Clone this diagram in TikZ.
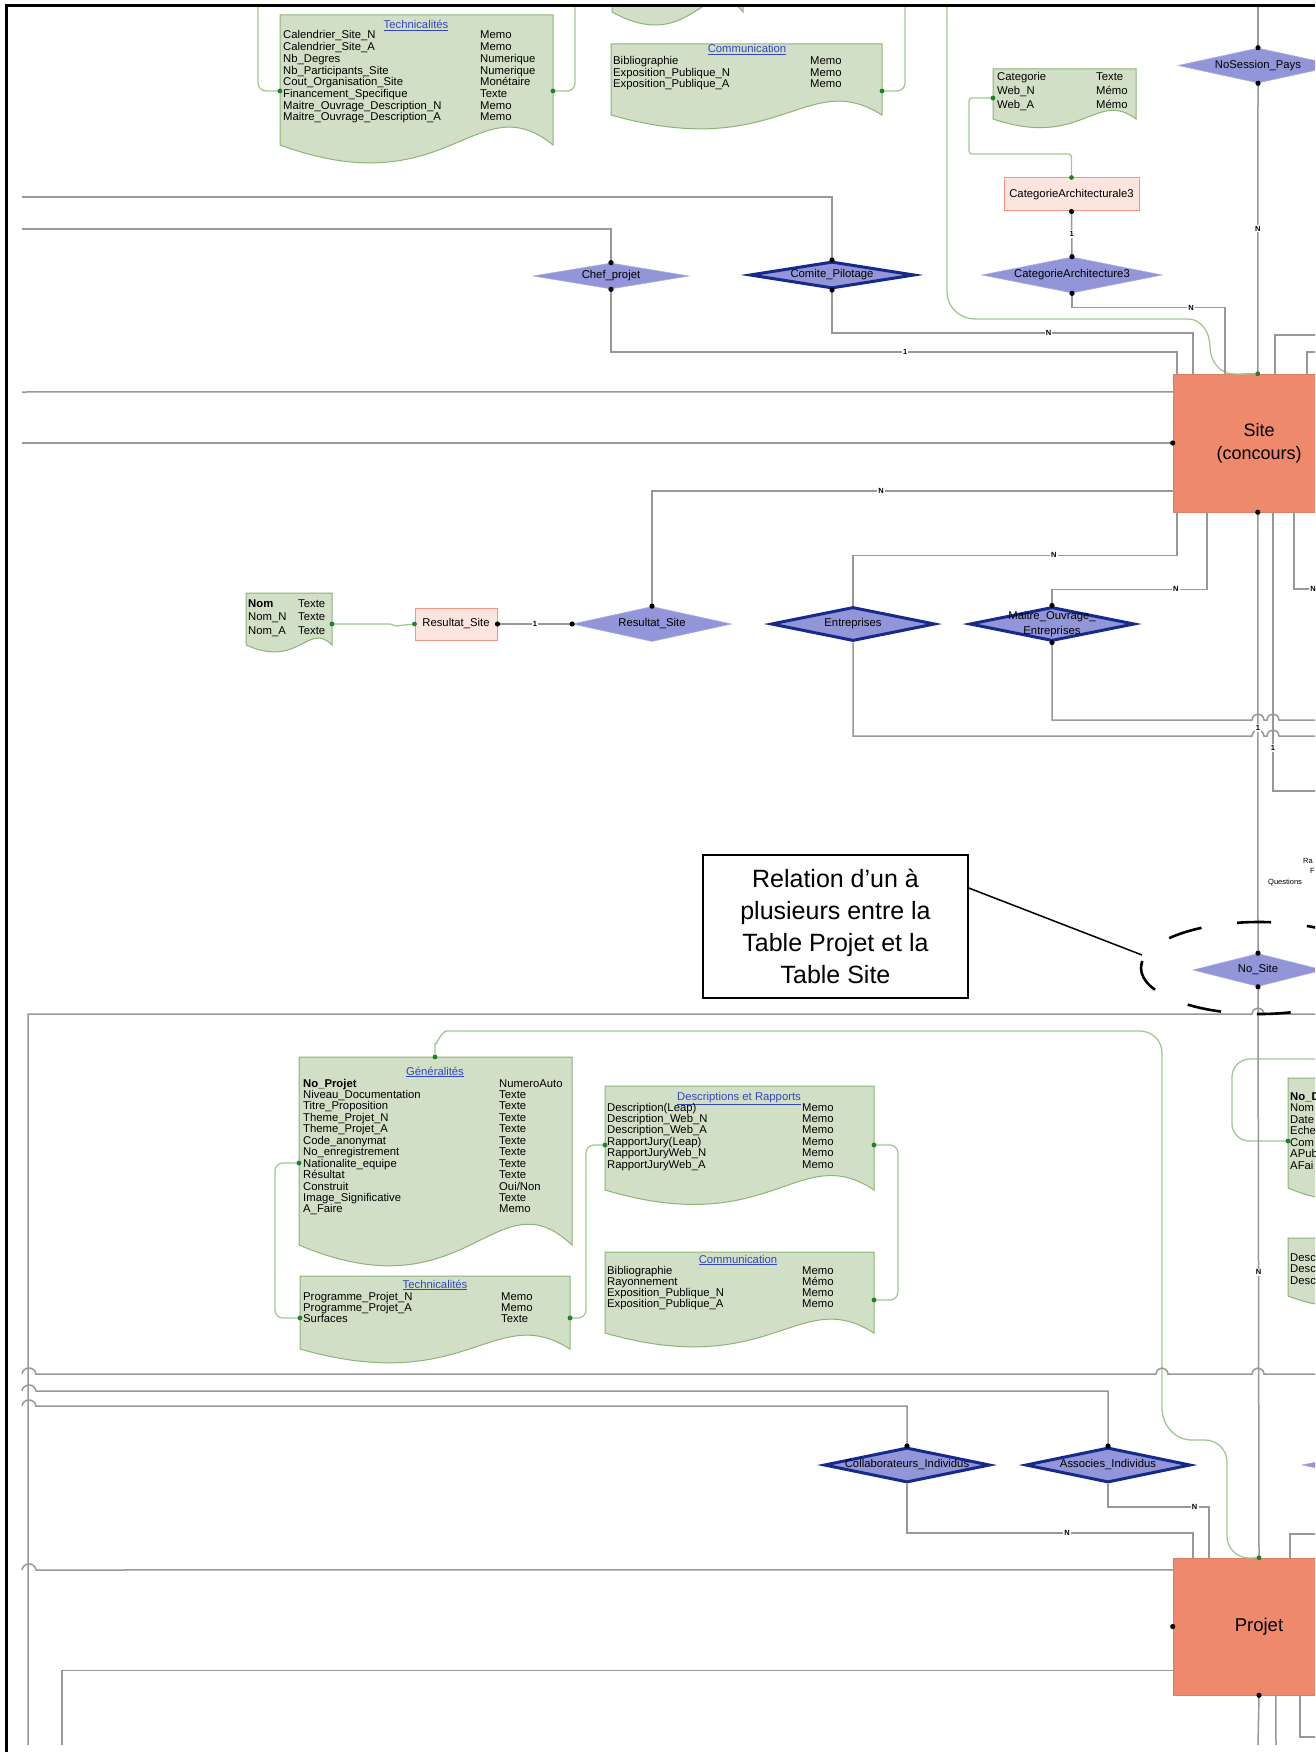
\documentclass[tikz,border=0pt]{standalone}
\usepackage{fontspec}
\setmainfont{Liberation Sans}
\usetikzlibrary{shapes.geometric,calc}
\definecolor{lavfill}{RGB}{146,149,216}
\definecolor{lavline}{RGB}{170,172,226}
\definecolor{navy}{RGB}{22,42,140}
\definecolor{docfill}{RGB}{210,223,199}
\definecolor{docline}{RGB}{140,180,120}
\definecolor{gline}{RGB}{160,200,145}
\definecolor{gdotc}{RGB}{30,130,40}
\definecolor{salmon}{RGB}{239,137,107}
\definecolor{pinkfill}{RGB}{252,229,222}
\definecolor{pinkline}{RGB}{240,150,130}
\definecolor{grayline}{RGB}{152,152,152}
\definecolor{titleblue}{RGB}{50,70,190}
\tikzset{
  conn/.style={draw=grayline, line width=1.5pt},
  gconn/.style={draw=gline, line width=1.3pt},
  dia/.style={diamond, fill=lavfill, draw=lavline, line width=0.6pt, inner sep=0pt},
  diathick/.style={diamond, fill=lavfill, draw=navy, line width=3pt, inner sep=0pt},
  lbl/.style={font=\fontsize{11.3}{12}\selectfont, inner sep=0pt},
  card/.style={font=\fontsize{7.5}{8}\selectfont\bfseries, fill=white, inner sep=1.2pt},
  rowtxt/.style={font=\fontsize{11.3}{11.6}\selectfont, inner sep=0pt, anchor=base west},
  doctitle/.style={font=\fontsize{11.3}{11.6}\selectfont, text=titleblue, inner sep=0pt, anchor=base},
  entity/.style={fill=salmon, draw=salmon!92!black, line width=0.5pt, align=center, inner sep=0pt},
  relrect/.style={fill=pinkfill, draw=pinkline, line width=1pt, font=\fontsize{11.3}{12}\selectfont, inner sep=0pt},
  docsty/.style={fill=docfill, draw=docline, line width=1pt},
  smalltxt/.style={font=\fontsize{7.5}{8}\selectfont, inner sep=0pt, anchor=base west}
}
\newcommand\docshape[6]{%
  \path[docsty] (#2,#3) -- (#4,#3) -- (#4,#5) .. controls ({#2+0.72*(#4-#2)},{#5-#6}) and ({#2+0.62*(#4-#2)},{#5+#6}) .. (#2,#5) -- cycle;
  \coordinate (#1) at ({(#2+#4)/2},#3);}
\newcommand\docrows[6]{%
  \foreach \nm/\ty [count=\k from 0] in {#6} {%
    \node[rowtxt] (#1n\k) at (#2,{#4+\k*#5}) {\nm};
    \node[rowtxt] (#1t\k) at (#3,{#4+\k*#5}) {\ty};
  }}
\newcommand\bdot[1]{\fill[black] (#1) circle (2.6pt);}
\newcommand\gdot[1]{\fill[gdotc] (#1) circle (2.4pt);}
\begin{document}
\begin{tikzpicture}[x=1pt,y=-1pt]
\useasboundingbox (0,0) rectangle (1315,1752);
\fill[white] (0,0) rectangle (1315,1752);
\clip (0,0) rectangle (1315,1752);

% ---------- documents (attribute tables)
\begin{scope}
  \clip (0,8) rectangle (1315,60);
  \docshape{topdoc}{612}{-40}{743}{12}{45}
\end{scope}
\docshape{techA}{280}{15}{553}{145}{62}
\docshape{commA}{611}{44}{882}{115}{48}
\docshape{catdoc}{993}{69}{1136}{119}{30}
\docshape{nomdoc}{246}{593}{332}{645}{24}
\docshape{gen}{299}{1057}{572}{1245}{72}
\docshape{techB}{300}{1276}{570}{1349}{48}
\docshape{descr}{605}{1086}{874}{1190}{50}
\docshape{commB}{605}{1252}{874}{1333}{48}
\docshape{docA}{1288}{1078}{1440}{1188}{40}
\docshape{docB}{1288}{1238}{1440}{1296}{36}

\node[doctitle] (techAt) at (416,29) {\underline{Technicalités}};
\node[doctitle] (commAt) at (747,53) {\underline{Communication}};
\node[doctitle] (gent) at (435,1075) {\underline{Généralités}};
\node[doctitle] (techBt) at (435,1288) {\underline{Technicalités}};
\node[doctitle] (descrt) at (739,1100) {\underline{Descriptions et Rapports}};
\node[doctitle] (commBt) at (738,1263) {\underline{Communication}};

\docrows{ta}{283}{480}{39}{11.7}{Calendrier\_Site\_N/Memo, Calendrier\_Site\_A/Memo, Nb\_Degres/Numerique, Nb\_Participants\_Site/Numerique, Cout\_Organisation\_Site/Monétaire, Financement\_Specifique/Texte, Maitre\_Ouvrage\_Description\_N/Memo, Maitre\_Ouvrage\_Description\_A/Memo}
\docrows{ca}{613}{810}{65}{11.2}{Bibliographie/Memo, Exposition\_Publique\_N/Memo, Exposition\_Publique\_A/Memo}
\docrows{cd}{997}{1096}{81}{13.7}{Categorie/Texte, Web\_N/Mémo, Web\_A/Mémo}
\docrows{nd}{248}{298}{607}{13.5}{{\bfseries Nom}/Texte, Nom\_N/Texte, Nom\_A/Texte}
\docrows{ge}{303}{499}{1087}{11.45}{{\bfseries No\_Projet}/NumeroAuto, Niveau\_Documentation/Texte, Titre\_Proposition/Texte, Theme\_Projet\_N/Texte, Theme\_Projet\_A/Texte, Code\_anonymat/Texte, No\_enregistrement/Texte, Nationalite\_equipe/Texte, Résultat/Texte, Construit/Oui\slash Non, Image\_Significative/Texte, A\_Faire/Memo}
\docrows{tb}{303}{501}{1300}{11.2}{Programme\_Projet\_N/Memo, Programme\_Projet\_A/Memo, Surfaces/Texte}
\docrows{de}{607}{802}{1111}{11.45}{Description(Leap)/Memo, Description\_Web\_N/Memo, Description\_Web\_A/Memo, RapportJury(Leap)/Memo, RapportJuryWeb\_N/Memo, RapportJuryWeb\_A/Memo}
\docrows{cb}{607}{802}{1274}{11.3}{Bibliographie/Memo, Rayonnement/Mémo, Exposition\_Publique\_N/Memo, Exposition\_Publique\_A/Memo}
\foreach \nm [count=\k from 0] in {{\bfseries No\_D},Nom,Date,Eche,Com,APub,AFai}
  \node[rowtxt] (dA\k) at (1290,{1100+\k*11.5}) {\nm};
\foreach \nm [count=\k from 0] in {Desc,Desc,Desc}
  \node[rowtxt] (dB\k) at (1290,{1261+\k*11.5}) {\nm};

% connection points of the documents
\coordinate (techAL) at (280,91);
\coordinate (techAR) at (553,91);
\coordinate (commAR) at (882,91);
\coordinate (catdocL) at (993,98);
\coordinate (nomR) at (332,624);
\coordinate (genT) at (435,1057);
\coordinate (genL) at (299,1163);
\coordinate (techBL) at (300,1318);
\coordinate (techBR) at (570,1318);
\coordinate (descrL) at (605,1145);
\coordinate (descrR) at (874,1145);
\coordinate (commBR) at (874,1300);
\coordinate (docAL) at (1288,1141);

% ---------- entities, relations
\node[entity, minimum width=172pt, minimum height=138pt, font=\fontsize{18}{23}\selectfont] (site) at (1259,443) {Site\\(concours)};
\node[entity, minimum width=172pt, minimum height=137pt, font=\fontsize{18.5}{22}\selectfont] (projet) at (1259,1626.5) {Projet};

\node[relrect, minimum width=135pt, minimum height=33pt] (catrect) at (1071.5,194.5) {CategorieArchitecturale3};
\node[relrect, minimum width=82pt, minimum height=32pt] (resrect) at (456,624) {Resultat\_Site};

\node[dia, minimum width=156pt, minimum height=26pt] (chef) at (611,276) {};
\node[lbl] (chefl) at (chef) {Chef\_projet};
\node[diathick, minimum width=165pt, minimum height=27pt] (comite) at (832,275) {};
\node[lbl] (comitel) at (comite) {Comite\_Pilotage};
\node[dia, minimum width=180pt, minimum height=36pt] (catdia) at (1072,275) {};
\node[lbl] (catdial) at (catdia) {CategorieArchitecture3};
\node[dia, minimum width=160pt, minimum height=35pt] (nosess) at (1258,65.5) {};
\node[lbl] (nosessl) at (nosess) {NoSession\_Pays};
\node[dia, minimum width=159pt, minimum height=35pt] (resdia) at (652,624) {};
\node[lbl] (resdial) at (resdia) {Resultat\_Site};
\node[diathick, minimum width=164pt, minimum height=34pt] (entdia) at (853,624) {};
\node[lbl] (entdial) at (entdia) {Entreprises};
\node[diathick, minimum width=165pt, minimum height=34pt] (maitre) at (1052,624) {};
\node[lbl, align=center, font=\fontsize{11.3}{15}\selectfont] (maitrel) at (1052,624) {Maitre\_Ouvrage\_\\Entreprises};
\node[dia, minimum width=130pt, minimum height=33pt] (nosite) at (1258,970) {};
\node[lbl] (nositel) at (nosite) {No\_Site};
\node[diathick, minimum width=166pt, minimum height=35pt] (collab) at (907,1465) {};
\node[lbl] (collabl) at (collab) {Collaborateurs\_Individus};
\node[diathick, minimum width=165pt, minimum height=35pt] (assoc) at (1108,1465) {};
\node[lbl] (assocl) at (assoc) {Associes\_Individus};
\node[dia, minimum width=170pt, minimum height=35pt] (rdia) at (1387,1465) {};

% ---------- green attribute links
\draw[gconn, rounded corners=8] (techAL) -- (258,91) -- (258,7);
\draw[gconn, rounded corners=8] (techAR) -- (575,91) -- (575,7);
\draw[gconn, rounded corners=8] (commAR) -- (905,91) -- (905,7);
\draw[gconn, rounded corners=3] (catdocL) -- (969,98) -- (969,154) -| (catrect.north);
\draw[gconn] (947,7) -- (947,292) to[out=-90,in=180] (975,319) -- (1188,319) to[out=0,in=90] (1210,347) to[out=-90,in=180] (1234,374) -- ($(site.north west)+(85,0)$);
\draw[gconn] (nomR) -- (390,624) -- (396,626) -- (resrect.west);
\draw[gconn] (genT) -- (435,1043) to[out=-90,in=180] (447,1031) -- (1140,1031) to[out=0,in=90] (1162,1053) -- (1162,1408) to[out=-90,in=180] (1192,1440) -- (1205,1440) to[out=0,in=90] (1227,1462) -- (1227,1536) to[out=-90,in=180] (1249,1558) -- (projet.north);
\draw[gconn, rounded corners=8] (genL) -- (275,1163) -- (275,1318) -- (techBL);
\draw[gconn, rounded corners=8] (techBR) -- (586,1318) -- (586,1145) -- (descrL);
\draw[gconn, rounded corners=8] (descrR) -- (898,1145) -- (898,1300) -- (commBR);
\draw[gconn] (1320,1059) -- (1250,1059) to[out=180,in=90] (1232,1077) -- (1232,1124) to[out=-90,in=180] (1250,1141) -- (docAL);

% ---------- gray relation links (upper part)
\draw[conn] (22,197) -| (comite.north);
\draw[conn] (22,229) -| (chef.north);
\draw[conn] (chef.south) |- node[card, pos=0.76] {1} ($(site.north west)+(4,-22)$) -- ($(site.north west)+(4,0)$);
\draw[conn] (comite.south) |- node[card, pos=0.8] {N} ($(site.north west)+(20,-41)$) -- ($(site.north west)+(20,0)$);
\draw[conn] (catrect.south) -- node[card] {1} (catdia.north);
\draw[conn] (catdia.south) |- node[card, pos=0.89] {N} ($(site.north west)+(52,-66)$) -- ($(site.north west)+(52,0)$);
\draw[conn] (1258,7) -- (nosess.north);
\draw[conn] (nosess.south) -- node[card] {N} ($(site.north west)+(85,0)$);
\draw[conn] ($(site.north west)+(102,0)$) |- (1320,335);
\draw[conn] ($(site.north west)+(134,0)$) |- (1320,352);
\draw[conn] (22,392) -- ($(site.north west)+(0,18)$);
\draw[conn] (22,443) -- (site.west);
\draw[conn] (resrect.east) -- node[card] {1} (resdia.west);
\draw[conn] (resdia.north) |- node[card, pos=0.72] {N} ($(site.north west)+(0,117)$);
\draw[conn] (entdia.north) |- node[card, pos=0.81] {N} ($(site.south west)+(4,43)$) -- ($(site.south west)+(4,0)$);
\draw[conn] (maitre.north) |- node[card, pos=0.9] {N} ($(site.south west)+(34,77)$) -- ($(site.south west)+(34,0)$);
\draw[conn] ($(site.south west)+(121,0)$) |- (1320,589);
\node[card] (nright) at (1313,589) {N};
\draw[conn] ($(site.south west)+(85,0)$) -- (nosite.north);
\draw[conn] ($(site.south west)+(100,0)$) |- (1320,791);
\draw[conn] (maitre.south) |- (1252,720) .. controls (1253,712) and (1263,712) .. (1264,720) -- (1267,720) .. controls (1268,712) and (1278,712) .. (1279,720) -- (1320,720);
\draw[conn] (entdia.south) |- (1252,736) .. controls (1253,728) and (1263,728) .. (1264,736) -- (1267,736) .. controls (1268,728) and (1278,728) .. (1279,736) -- (1320,736);
\node[card] (one1) at (1258,728) {1};
\node[card] (one2) at (1273,748) {1};
\node[smalltxt] (ra) at (1303,863) {Ra};
\node[smalltxt] (rf) at (1310,873) {F};
\node[smalltxt] (rq) at (1268,884) {Questions};

% ---------- lower part
\draw[conn] (1320,1014) -- (1264,1014) .. controls (1263,1006) and (1253,1006) .. (1252,1014) -- (28,1014) -- (28,1745);
\draw[conn] (nosite.south) -- node[card] {N} (projet.north);
\draw[conn] (22,1374) .. controls (23,1366) and (35,1366) .. (36,1374) -- (1156,1374) .. controls (1157,1366) and (1167,1366) .. (1168,1374) -- (1252,1374) .. controls (1253,1366) and (1263,1366) .. (1264,1374) -- (1320,1374);
\draw[conn] (22,1391) .. controls (23,1383) and (35,1383) .. (36,1391) -| (assoc.north);
\draw[conn] (22,1406) .. controls (23,1398) and (35,1398) .. (36,1406) -| (collab.north);
\draw[conn] (22,1570) .. controls (23,1562) and (35,1562) .. (36,1570) -- ($(projet.north west)+(0,12)$);
\draw[conn] (collab.south) |- node[card, pos=0.78] {N} ($(projet.north west)+(20,-25)$) -- ($(projet.north west)+(20,0)$);
\draw[conn] (assoc.south) |- node[card, pos=0.93] {N} ($(projet.north west)+(36,-51)$) -- ($(projet.north west)+(36,0)$);
\draw[conn] ($(projet.north west)+(117,0)$) |- (1320,1534);
\draw[conn] (projet.south) -- (1258,1745);
\draw[conn] ($(projet.south west)+(103,0)$) -- (1276,1745);
\draw[conn] ($(projet.south west)+(127,0)$) |- (1320,1737);
\draw[conn] (62,1745) |- ($(projet.south west)+(0,-25)$);

% ---------- dots
\bdot{chef.north} \bdot{chef.south} \bdot{comite.north} \bdot{comite.south}
\bdot{catrect.south} \bdot{catdia.north} \bdot{catdia.south}
\bdot{nosess.north} \bdot{nosess.south}
\bdot{site.west} \bdot{$(site.south west)+(85,0)$}
\bdot{resrect.east} \bdot{resdia.west} \bdot{resdia.north}
\bdot{maitre.north} \bdot{maitre.south}
\bdot{nosite.north} \bdot{nosite.south}
\bdot{collab.north} \bdot{assoc.north}
\bdot{projet.west} \bdot{projet.south}
\gdot{techAL} \gdot{techAR} \gdot{commAR} \gdot{catdocL} \gdot{catrect.north}
\gdot{nomR} \gdot{resrect.west} \gdot{$(site.north west)+(85,0)$}
\gdot{genT} \gdot{genL} \gdot{techBL} \gdot{techBR} \gdot{descrL} \gdot{descrR} \gdot{commBR}
\gdot{docAL} \gdot{projet.north}

% ---------- annotation
\node[draw=black, line width=1.5pt, fill=white, minimum width=265pt, minimum height=143pt, align=center, font=\fontsize{25}{31.8}\selectfont, inner sep=0pt] (callout) at (835.5,926.5) {Relation d’un à\\plusieurs entre la\\Table Projet et la\\Table Site};
\coordinate (cl1) at (968,888);
\coordinate (calloutTip) at (1142,955);
\draw[black, line width=1.5pt] (callout.east |- cl1) -- (calloutTip);
\draw[black, line width=2.6pt, dash pattern=on 34pt off 36pt, dash phase=17pt] (1259,968) ellipse [x radius=118pt, y radius=46pt];

% ---------- frame
\draw[black, line width=3pt] (6,1752) -- (6,6) -- (1315,6);
\end{tikzpicture}
\end{document}
